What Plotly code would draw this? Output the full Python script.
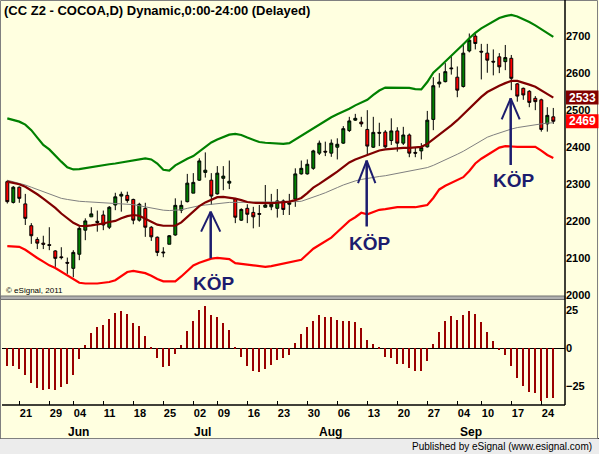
import pandas as pd
import plotly.graph_objects as go

# ---------------- data ----------------
HOLIDAYS = ["2012-05-28", "2012-07-04", "2012-09-03"]
dates = [d for d in pd.bdate_range("2012-05-17", "2012-09-26")
         if d.strftime("%Y-%m-%d") not in HOLIDAYS]

opens = [2306, 2250, 2291, 2246, 2187, 2150, 2140, 2136, 2119, 2103,
         2088, 2072, 2110, 2175, 2211, 2199, 2216, 2183, 2243, 2267,
         2269, 2258, 2202, 2234, 2183, 2156, 2116, 2137, 2162, 2229,
         2252, 2275, 2310, 2331, 2310, 2273, 2315, 2302, 2259, 2202,
         2234, 2223, 2220, 2237, 2238, 2234, 2254, 2245, 2259, 2327,
         2327, 2342, 2383, 2388, 2383, 2399, 2410, 2444, 2472, 2467,
         2447, 2399, 2439, 2440, 2417, 2443, 2410, 2432, 2385, 2389,
         2400, 2474, 2570, 2576, 2613, 2588, 2563, 2659, 2699, 2658,
         2653, 2631, 2643, 2630, 2639, 2570, 2558, 2550, 2531, 2527,
         2462, 2481]
highs = [2310, 2294, 2293, 2273, 2194, 2156, 2160, 2183, 2121, 2129,
         2101, 2121, 2186, 2207, 2237, 2228, 2228, 2240, 2276, 2279,
         2279, 2260, 2249, 2249, 2186, 2158, 2129, 2162, 2261, 2255,
         2327, 2329, 2369, 2385, 2329, 2348, 2348, 2363, 2262, 2234,
         2245, 2238, 2243, 2297, 2273, 2286, 2258, 2273, 2342, 2363,
         2366, 2392, 2417, 2414, 2420, 2423, 2456, 2481, 2489, 2481,
         2499, 2481, 2465, 2445, 2477, 2453, 2454, 2436, 2398, 2410,
         2497, 2588, 2599, 2626, 2645, 2617, 2678, 2706, 2706, 2678,
         2678, 2663, 2653, 2675, 2648, 2572, 2560, 2553, 2537, 2530,
         2507, 2505]
lows = [2247, 2247, 2249, 2189, 2138, 2124, 2124, 2121, 2076, 2096,
        2057, 2048, 2094, 2148, 2211, 2171, 2175, 2178, 2229, 2225,
        2249, 2191, 2198, 2157, 2146, 2105, 2102, 2137, 2160, 2221,
        2250, 2275, 2308, 2317, 2243, 2271, 2283, 2286, 2194, 2200,
        2194, 2180, 2184, 2236, 2229, 2209, 2216, 2216, 2238, 2325,
        2325, 2338, 2378, 2375, 2373, 2366, 2408, 2440, 2470, 2454,
        2378, 2397, 2402, 2396, 2405, 2387, 2405, 2372, 2372, 2366,
        2398, 2445, 2560, 2574, 2595, 2534, 2560, 2655, 2663, 2582,
        2600, 2593, 2599, 2607, 2553, 2522, 2527, 2507, 2499, 2441,
        2441, 2462]
closes = [2252, 2291, 2261, 2207, 2160, 2140, 2137, 2134, 2099, 2101,
          2086, 2115, 2180, 2200, 2219, 2196, 2189, 2237, 2265, 2272,
          2255, 2202, 2245, 2183, 2157, 2115, 2114, 2160, 2242, 2242,
          2302, 2304, 2362, 2337, 2267, 2329, 2321, 2307, 2210, 2231,
          2218, 2211, 2218, 2243, 2245, 2254, 2231, 2249, 2327, 2342,
          2353, 2389, 2410, 2386, 2410, 2407, 2449, 2470, 2477, 2462,
          2402, 2439, 2437, 2400, 2443, 2410, 2432, 2383, 2383, 2398,
          2472, 2565, 2575, 2603, 2611, 2553, 2653, 2688, 2679, 2656,
          2634, 2629, 2616, 2641, 2585, 2537, 2540, 2520, 2522, 2447,
          2485, 2469]

upper_band = [2477, 2473, 2468, 2460, 2445, 2425, 2405, 2393, 2375, 2360,
              2345, 2339, 2340, 2343, 2346, 2349, 2351, 2353, 2355, 2358,
              2362, 2364, 2367, 2369, 2366, 2355, 2338, 2336, 2350, 2360,
              2368, 2375, 2388, 2400, 2412, 2420, 2427, 2433, 2435, 2432,
              2425, 2418, 2413, 2411, 2410, 2409, 2408, 2410, 2420, 2430,
              2440, 2450, 2462, 2472, 2480, 2488, 2495, 2503, 2512, 2520,
              2527, 2540, 2552, 2560, 2560, 2560, 2560, 2559, 2556, 2555,
              2575, 2600, 2615, 2630, 2645, 2660, 2677, 2693, 2708, 2720,
              2730, 2740, 2748, 2753, 2756, 2752, 2745, 2737, 2728, 2718,
              2707, 2697]
lower_band = [2132, 2131, 2130, 2122, 2110, 2100, 2090, 2080, 2073, 2063,
              2053, 2042, 2033, 2031, 2030, 2031, 2033, 2035, 2040, 2052,
              2062, 2065, 2063, 2059, 2052, 2043, 2037, 2036, 2037, 2050,
              2065, 2080, 2087, 2093, 2098, 2100, 2099, 2097, 2086, 2083,
              2082, 2080, 2078, 2076, 2078, 2081, 2084, 2087, 2090, 2095,
              2110, 2125, 2135, 2145, 2155, 2170, 2185, 2200, 2210, 2222,
              2218, 2225, 2230, 2232, 2235, 2237, 2237, 2236, 2237, 2240,
              2243, 2262, 2285, 2295, 2303, 2310, 2318, 2335, 2355, 2368,
              2378, 2390, 2398, 2402, 2400, 2400, 2400, 2400, 2400, 2390,
              2378, 2370]
mid_line = [2306, 2303, 2299, 2292, 2283, 2272, 2260, 2248, 2235, 2220,
            2207, 2195, 2187, 2186, 2188, 2190, 2193, 2197, 2200, 2207,
            2213, 2216, 2214, 2206, 2197, 2190, 2187, 2186, 2187, 2196,
            2210, 2225, 2240, 2250, 2258, 2264, 2265, 2263, 2260, 2256,
            2251, 2249, 2248, 2248, 2248, 2249, 2250, 2252, 2256, 2262,
            2275, 2290, 2300, 2312, 2322, 2333, 2345, 2358, 2366, 2372,
            2378, 2383, 2390, 2393, 2395, 2396, 2397, 2397, 2398, 2400,
            2408, 2420, 2432, 2445, 2458, 2472, 2488, 2505, 2520, 2535,
            2548, 2557, 2565, 2572, 2578, 2578, 2574, 2568, 2562, 2553,
            2542, 2533]
slow_ma = [2310, 2306, 2302, 2297, 2291, 2285, 2279, 2272, 2266, 2261,
           2258, 2255, 2253, 2252, 2251, 2250, 2250, 2249, 2248, 2247,
           2246, 2244, 2241, 2238, 2234, 2230, 2229, 2228, 2228, 2230,
           2234, 2238, 2241, 2243, 2245, 2248, 2249, 2250, 2250, 2250,
           2250, 2251, 2251, 2251, 2252, 2252, 2252, 2252, 2252, 2253,
           2258, 2264, 2270, 2276, 2282, 2290, 2297, 2303, 2308, 2312,
           2315, 2318, 2320, 2322, 2325, 2328, 2331, 2334, 2337, 2340,
           2344, 2350, 2357, 2364, 2372, 2380, 2388, 2398, 2408, 2418,
           2426, 2432, 2438, 2443, 2448, 2452, 2455, 2458, 2460, 2462,
           2464, 2465]
oscillator = [-11.3, -11.3, -13.5, -17.4, -22.4, -25.7, -27.2, -26.6, -27.2, -25.0,
              -23.3, -17.4, -7.0, 2.2, 9.8, 13.7, 15.2, 19.0, 22.9, 24.4,
              22.4, 16.3, 14.6, 8.1, 1.1, -6.5, -12.0, -11.3, -3.5, 2.2,
              11.3, 18.1, 25.0, 27.7, 21.8, 20.5, 16.3, 12.2, 0.9, -5.9,
              -11.3, -14.8, -15.2, -13.5, -10.9, -7.6, -6.1, -4.4, 3.3, 9.4,
              13.7, 17.9, 21.8, 20.5, 20.5, 18.5, 17.9, 17.9, 17.0, 13.1,
              5.4, 2.8, 0.2, -5.4, -6.5, -10.2, -10.2, -13.1, -14.6, -14.6,
              -8.1, 2.6, 10.5, 17.9, 21.3, 18.5, 21.8, 24.4, 22.2, 17.0,
              10.5, 4.8, -1.1, -4.4, -11.3, -19.6, -24.4, -28.3, -29.0, -34.2,
              -32.7, -32.2]

tick_dates = ["2012-05-21", "2012-05-29", "2012-06-04", "2012-06-11", "2012-06-18",
              "2012-06-25", "2012-07-02", "2012-07-09", "2012-07-16", "2012-07-23",
              "2012-07-30", "2012-08-06", "2012-08-13", "2012-08-20", "2012-08-27",
              "2012-09-04", "2012-09-10", "2012-09-17", "2012-09-24"]
month_labels = ["Jun", "Jul", "Aug", "Sep"]
price_ticks = [2000, 2100, 2200, 2300, 2400, 2500, 2600, 2700]
osc_ticks = [25, 0, -25]
title_text = "(CC Z2 - COCOA,D) Dynamic,0:00-24:00 (Delayed)"
signal_label = "KÖP"

# ---------------- geometry helpers ----------------
W, H = 599, 454
L, R, T, B = 2, 565, 2, 405          # plot area in pixels


def px(xp):
    return (xp - L) / (R - L)


def py(yp):
    return (B - yp) / (B - T)


idx = list(range(len(dates)))
date_str = [d.strftime("%Y-%m-%d") for d in dates]
tick_idx = [date_str.index(t) for t in tick_dates]
tick_txt = [t[-2:] for t in tick_dates]

BG = "#FFFFE0"
FONT = "Liberation Sans"
NAVY = "#1C1C6E"

fig = go.Figure()

fig.add_trace(go.Candlestick(
    x=idx, open=opens, high=highs, low=lows, close=closes,
    increasing=dict(fillcolor="#008000", line=dict(color="#000000", width=1)),
    decreasing=dict(fillcolor="#FF0000", line=dict(color="#000000", width=1)),
    whiskerwidth=0, xaxis="x", yaxis="y", hoverinfo="skip"))

for series, color, width in [(slow_ma, "#808080", 1),
                             (upper_band, "#008000", 2.2),
                             (lower_band, "#FF0000", 2.2),
                             (mid_line, "#800000", 2.2)]:
    fig.add_trace(go.Scatter(x=idx, y=series, mode="lines",
                             line=dict(color=color, width=width),
                             xaxis="x", yaxis="y", hoverinfo="skip"))

fig.add_trace(go.Bar(x=idx, y=oscillator, marker=dict(color="#990000", line=dict(width=0)),
                     width=0.38, xaxis="x", yaxis="y2", hoverinfo="skip"))

# ---------------- axis ranges from pixel calibration ----------------
p_per_px = 1 / 0.3704
y_top = 2000 + (295 - T) * p_per_px
y_bot = 2000 + (295 - 297) * p_per_px
o_per_px = 1 / 1.53
o_top = (348.3 - 300) * o_per_px
o_bot = -(B - 348.3) * o_per_px
x_lo = (L - 7.3) / 6
x_hi = (R - 7.3) / 6

shapes = []
annotations = []

# frame, separator, status bar
shapes.append(dict(type="rect", xref="paper", yref="paper", x0=px(0), x1=px(W), y0=py(438), y1=py(H),
                   fillcolor="#ECECEC", line=dict(width=0), layer="below"))
shapes.append(dict(type="line", xref="paper", yref="paper", x0=px(0), x1=px(W), y0=py(438.5), y1=py(438.5),
                   line=dict(color="#303030", width=1)))
shapes.append(dict(type="rect", xref="paper", yref="paper", x0=px(0.5), x1=px(597.5), y0=py(0.5), y1=py(438.5),
                   line=dict(color="#808080", width=1), fillcolor="rgba(0,0,0,0)"))
shapes.append(dict(type="rect", xref="paper", yref="paper", x0=px(0.5), x1=px(R), y0=py(296), y1=py(299.5),
                   fillcolor="#B0B0B0", line=dict(color="#707070", width=1)))
shapes.append(dict(type="line", xref="paper", yref="paper", x0=px(R), x1=px(R), y0=py(0), y1=py(B),
                   line=dict(color="#000000", width=1.5)))
shapes.append(dict(type="line", xref="paper", yref="paper", x0=px(L), x1=px(R), y0=py(B), y1=py(B),
                   line=dict(color="#000000", width=1.5)))

# KÖP arrows (shaft + open V head)
arrows = [  # x, tip, base, head y, half width
    (33.9, 2225, 2099, 2171, 1.6),
    (59.9, 2363, 2185, 2302, 1.45),
    (83.9, 2531, 2351, 2474, 1.5),
]
for ax_, tip, base, hy, hw in arrows:
    shapes.append(dict(type="line", xref="x", yref="y", x0=ax_, x1=ax_, y0=base, y1=tip,
                       line=dict(color=NAVY, width=2.5)))
    shapes.append(dict(type="line", xref="x", yref="y", x0=ax_ - hw, x1=ax_, y0=hy, y1=tip,
                       line=dict(color=NAVY, width=2)))
    shapes.append(dict(type="line", xref="x", yref="y", x0=ax_ + hw, x1=ax_, y0=hy, y1=tip,
                       line=dict(color=NAVY, width=2)))

for kx, ky in [(34.4, 2032), (60.4, 2140), (84.4, 2308)]:
    annotations.append(dict(x=kx, y=ky, xref="x", yref="y", text=signal_label, showarrow=False,
                            font=dict(family=FONT, size=19, color=NAVY, weight="bold"),
                            xanchor="center", yanchor="middle"))

# last-value tags
for val, color in [(mid_line[-1], "#800000"), (closes[-1], "#FF0000")]:
    shapes.append(dict(type="rect", xref="paper", yref="y", x0=px(566), x1=px(598.5),
                       y0=val - 19, y1=val + 19, fillcolor=color, line=dict(width=0), layer="above"))
    annotations.append(dict(x=px(567), y=val, xref="paper", yref="y", text=str(val), showarrow=False,
                            font=dict(family=FONT, size=12, color="#FFFFFF", weight="bold"),
                            xanchor="left", yanchor="middle"))

# title / credits
annotations.append(dict(x=px(2), y=py(10.5), xref="paper", yref="paper", text=title_text, showarrow=False,
                        font=dict(family=FONT, size=13, color="#000000", weight="bold"),
                        xanchor="left", yanchor="middle"))
annotations.append(dict(x=px(4), y=py(290), xref="paper", yref="paper", text="© eSignal, 2011",
                        showarrow=False, font=dict(family=FONT, size=8, color="#000000"),
                        xanchor="left", yanchor="middle"))
annotations.append(dict(x=px(594), y=py(446.5), xref="paper", yref="paper",
                        text="Published by eSignal (www.esignal.com)", showarrow=False,
                        font=dict(family=FONT, size=10, color="#000000"),
                        xanchor="right", yanchor="middle"))

# month labels
for m, mx in zip(month_labels, [11.8, 32.5, 53.9, 77.2]):
    annotations.append(dict(x=mx, y=py(432), xref="x", yref="paper", text=m, showarrow=False,
                            font=dict(family=FONT, size=12, color="#000000", weight="bold"),
                            xanchor="center", yanchor="middle"))

fig.update_layout(
    width=W, height=H,
    margin=dict(l=L, r=W - R, t=T, b=H - B, pad=0),
    paper_bgcolor=BG, plot_bgcolor=BG,
    showlegend=False, hovermode=False, bargap=0,
    xaxis=dict(range=[x_lo, x_hi], anchor="y2", tickmode="array", tickvals=tick_idx, ticktext=tick_txt,
               ticks="inside", ticklen=4, tickcolor="#000000", ticklabelposition="outside right",
               tickfont=dict(family=FONT, size=11, color="#000000", weight="bold"),
               showgrid=False, zeroline=False, showline=False, rangeslider=dict(visible=False),
               fixedrange=True),
    yaxis=dict(domain=[py(297), 1], range=[y_bot, y_top], side="right", anchor="x",
               tickmode="array", tickvals=price_ticks, ticks="", showgrid=False, zeroline=False,
               showline=False, tickfont=dict(family=FONT, size=11, color="#000000", weight="bold"),
               fixedrange=True),
    yaxis2=dict(domain=[0, py(300)], range=[o_bot, o_top], side="right", anchor="x",
                tickmode="array", tickvals=osc_ticks, ticks="", showgrid=False,
                zeroline=True, zerolinecolor="#000000", zerolinewidth=1, showline=False,
                tickfont=dict(family=FONT, size=11, color="#000000", weight="bold"),
                fixedrange=True),
    shapes=shapes, annotations=annotations,
)

fig.write_html("out.html", config={"displayModeBar": False})
